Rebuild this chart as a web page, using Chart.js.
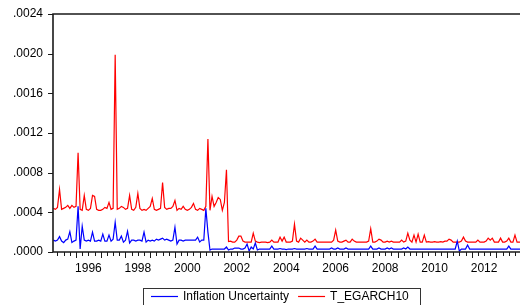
<!DOCTYPE html>
<html>
<head>
<meta charset="utf-8">
<script src="https://cdn.jsdelivr.net/npm/chart.js@4.4.1/dist/chart.umd.min.js"></script>
<style>
  html, body { margin: 0; padding: 0; background: #fff; overflow: hidden; }
  #chart { display: block; }
</style>
</head>
<body>
<canvas id="chart" width="520" height="305"></canvas>
<script>
// monthly series, first observation 1995M01
const startYear = 1995;
const seriesNames = ['Inflation Uncertainty', 'T_EGARCH10'];
const yearLabels = ['1996', '1998', '2000', '2002', '2004', '2006', '2008', '2010', '2012'];
const yTicks = [0, 0.0004, 0.0008, 0.0012, 0.0016, 0.0020, 0.0024];

const inflationUncertainty = [
  .00012, .00011, .00012, .000155, .00011, .000095, .00012, .00013, .000205, .000095, .00011, .00012, // 1995
  .00046, .00003, .00026, .00012, .00011, .00012, .00011, .0002, .00011, .00011, .00012, .00011,     // 1996
  .00018, .00011, .00011, .00017, .00011, .00013, .0003, .00012, .00012, .00016, .0001, .00012,      // 1997
  .00021, .00009, .00012, .00012, .00011, .00012, .00012, .00011, .0002, .0001, .00012, .00011,      // 1998
  .00012, .00011, .00013, .00012, .00013, .00014, .00012, .00013, .00012, .00011, .00012, .00025,    // 1999
  .00008, .00012, .00012, .00011, .00012, .00012, .00012, .00012, .00012, .00012, .00015, .0001,     // 2000
  .00012, .00012, .00044, .0002, .00002, .00003, .00003, .00003, .00003, .00003, .00003, .00003,     // 2001
  .00005, .00002, .00003, .00003, .00004, .00004, .00004, .00003, .00003, .00004, .00008, .00001,    // 2002
  .00005, .00003, .00009, .00002, .00003, .00003, .00003, .00003, .00003, .00003, .00006, .00003,    // 2003
  .00003, .00003, .000035, .00003, .00003, .000025, .00003, .00003, .00003, .000035, .00003, .00003, // 2004
  .00003, .00003, .00003, .000035, .00003, .00003, .00003, .00006, .00003, .00003, .00003, .00003,   // 2005
  .00003, .00003, .00003, .00004, .00003, .00003, .00004, .00003, .00003, .00003, .00004, .00003,    // 2006
  .00003, .00003, .00003, .00003, .00003, .00003, .00003, .00003, .00003, .00003, .00006, .00003,    // 2007
  .00003, .00003, .00004, .00003, .00003, .00003, .00004, .00003, .00004, .00003, .00003, .00003,    // 2008
  .00003, .00003, .00004, .00003, .00005, .00003, .00003, .00003, .00003, .00003, .00003, .00003,    // 2009
  .00003, .00003, .00003, .00003, .00003, .00003, .00003, .00003, .00003, .00003, .00003, .00003,    // 2010
  .00003, .00003, .00003, .00003, .00011, .00001, .00003, .00003, .00003, .00007, .00003, .00003,    // 2011
  .00003, .00003, .00003, .00003, .00003, .00003, .00003, .00003, .00003, .00003, .00003, .00003,    // 2012
  .00003, .00003, .00003, .00003, .00003, .00006, .00003, .00003, .00003, .00003, .00003, .00003,    // 2013
];

const tEgarch10 = [
  .00044, .00043, .00045, .00063, .00043, .00044, .00045, .00047, .00044, .00047, .00045, .00046,    // 1995
  .00100, .00043, .00042, .00057, .00043, .00042, .00044, .00057, .00056, .00043, .00042, .00042,    // 1996
  .00043, .00045, .00044, .00050, .00043, .00044, .00199, .00043, .00044, .00046, .00045, .00043,    // 1997
  .00044, .00057, .00043, .00042, .00045, .00059, .00044, .00042, .00043, .00042, .00044, .00046,    // 1998
  .00054, .00043, .00042, .00043, .00044, .00070, .00045, .00043, .00044, .00044, .00046, .00052,    // 1999
  .00042, .00044, .00043, .00046, .00043, .00042, .00043, .00045, .00049, .00043, .00042, .00044,    // 2000
  .00043, .00042, .00046, .00114, .00042, .00056, .00046, .00050, .00055, .00053, .00042, .00050,    // 2001
  .00083, .000105, .00011, .0001, .0001, .00012, .00016, .00016, .00011, .0001, .0001, .0001,        // 2002
  .0001, .00019, .00011, .0001, .000095, .0001, .0001, .0001, .000095, .0001, .00012, .0001,         // 2003
  .0001, .0001, .00015, .00011, .00015, .0001, .0001, .0001, .00011, .00028, .00011, .0001,          // 2004
  .00014, .00012, .0001, .00012, .0001, .0001, .00011, .00013, .0001, .0001, .0001, .0001,           // 2005
  .0001, .0001, .0001, .0001, .00012, .00022, .00011, .0001, .0001, .00011, .00012, .0001,           // 2006
  .0001, .00013, .00011, .0001, .0001, .0001, .0001, .0001, .0001, .00011, .000235, .0001,           // 2007
  .0001, .00011, .00013, .00012, .0001, .0001, .00011, .0001, .00011, .0001, .0001, .0001,           // 2008
  .0001, .00012, .0001, .00011, .00019, .00012, .0001, .00017, .0001, .00018, .0001, .0001,          // 2009
  .00017, .0001, .000105, .0001, .0001, .000105, .0001, .0001, .000105, .0001, .00011, .00011,       // 2010
  .00013, .00012, .0001, .0001, .0001, .0001, .00011, .00015, .00011, .0001, .0001, .0001,           // 2011
  .0001, .0001, .00012, .0001, .0001, .0001, .00011, .00014, .00012, .00014, .0001, .0001,           // 2012
  .0001, .00014, .0001, .0001, .00011, .00014, .0001, .0001, .00017, .0001, .0001, .0001,            // 2013
];

const FONT = "'Liberation Sans', Arial, sans-serif";

function toPoints(values) {
  return values.map((v, i) => ({ x: startYear + (i + 1) / 12, y: v }));
}

// EViews style frame, tick marks and the boxed legend
const eviewsFrame = {
  id: 'eviewsFrame',
  afterDraw(chart) {
    const { ctx, chartArea: a, scales: { x, y } } = chart;
    ctx.save();
    ctx.strokeStyle = '#1a1a1a';
    ctx.lineWidth = 1.6;
    ctx.beginPath();
    ctx.moveTo(a.right + 2, a.top);
    ctx.lineTo(a.left, a.top);
    ctx.lineTo(a.left, a.bottom);
    ctx.lineTo(a.right + 2, a.bottom);
    ctx.stroke();

    ctx.lineWidth = 1;
    ctx.beginPath();
    y.ticks.forEach((t) => {
      const py = Math.round(y.getPixelForValue(t.value)) + 0.5;
      ctx.moveTo(a.left - 5, py);
      ctx.lineTo(a.left, py);
    });
    for (let q = Math.ceil(x.min * 4); q <= x.max * 4; q++) {
      const px = Math.round(x.getPixelForValue(q / 4)) + 0.5;
      const len = q % 4 === 0 ? 6 : 4;
      ctx.moveTo(px, a.bottom);
      ctx.lineTo(px, a.bottom + len);
    }
    ctx.stroke();

    // legend
    const lx = 143.5, ly = 288.5;
    ctx.strokeStyle = '#333';
    ctx.strokeRect(lx, ly, 277, 30);
    ctx.font = `12px ${FONT}`;
    ctx.fillStyle = '#000';
    ctx.textBaseline = 'middle';
    let cx = 151;
    const cy = 296.5;
    chart.data.datasets.forEach((ds) => {
      ctx.strokeStyle = ds.borderColor;
      ctx.lineWidth = 1.2;
      ctx.beginPath();
      ctx.moveTo(cx, cy);
      ctx.lineTo(cx + 27, cy);
      ctx.stroke();
      ctx.fillText(ds.label, cx + 32, cy);
      cx += 32 + ctx.measureText(ds.label).width + 9;
    });
    ctx.restore();
  },
};

const ctx = document.getElementById('chart');
new Chart(ctx, {
  type: 'line',
  data: {
    datasets: [
      { label: seriesNames[0], data: toPoints(inflationUncertainty), borderColor: '#0000ff', borderWidth: 1.2, pointRadius: 0, tension: 0 },
      { label: seriesNames[1], data: toPoints(tEgarch10), borderColor: '#ff0000', borderWidth: 1.2, pointRadius: 0, tension: 0 },
    ],
  },
  options: {
    responsive: false,
    animation: false,
    devicePixelRatio: 1,
    layout: { padding: { top: 14, left: 0, right: 0, bottom: 0 } },
    plugins: { legend: { display: false }, tooltip: { enabled: false } },
    scales: {
      x: {
        type: 'linear',
        min: 1995.069,
        max: 2013.953,
        grid: { display: false, drawTicks: false },
        border: { display: false },
        afterBuildTicks: (s) => { s.ticks = yearLabels.map((yr) => ({ value: Number(yr) + 0.5 })); },
        afterFit: (s) => { s.height = 53; s.paddingLeft = 0; s.paddingRight = 0; },
        ticks: {
          autoSkip: false,
          maxRotation: 0,
          padding: 9,
          color: '#000',
          font: { family: FONT, size: 12 },
          callback: (v, i) => yearLabels[i],
        },
      },
      y: {
        min: 0,
        max: 0.0024,
        grid: { display: false, drawTicks: false },
        border: { display: false },
        afterBuildTicks: (s) => { s.ticks = yTicks.map((v) => ({ value: v })); },
        // keep the label overflow from pushing the plot top down
        afterFit: (s) => { s.width = 53; s.paddingTop = 0; s.paddingBottom = 0; },
        ticks: {
          padding: 10,
          color: '#000',
          font: { family: FONT, size: 12 },
          callback: (v) => v.toFixed(4).replace(/^0/, ''),
        },
      },
    },
  },
  plugins: [eviewsFrame],
});
</script>
</body>
</html>
